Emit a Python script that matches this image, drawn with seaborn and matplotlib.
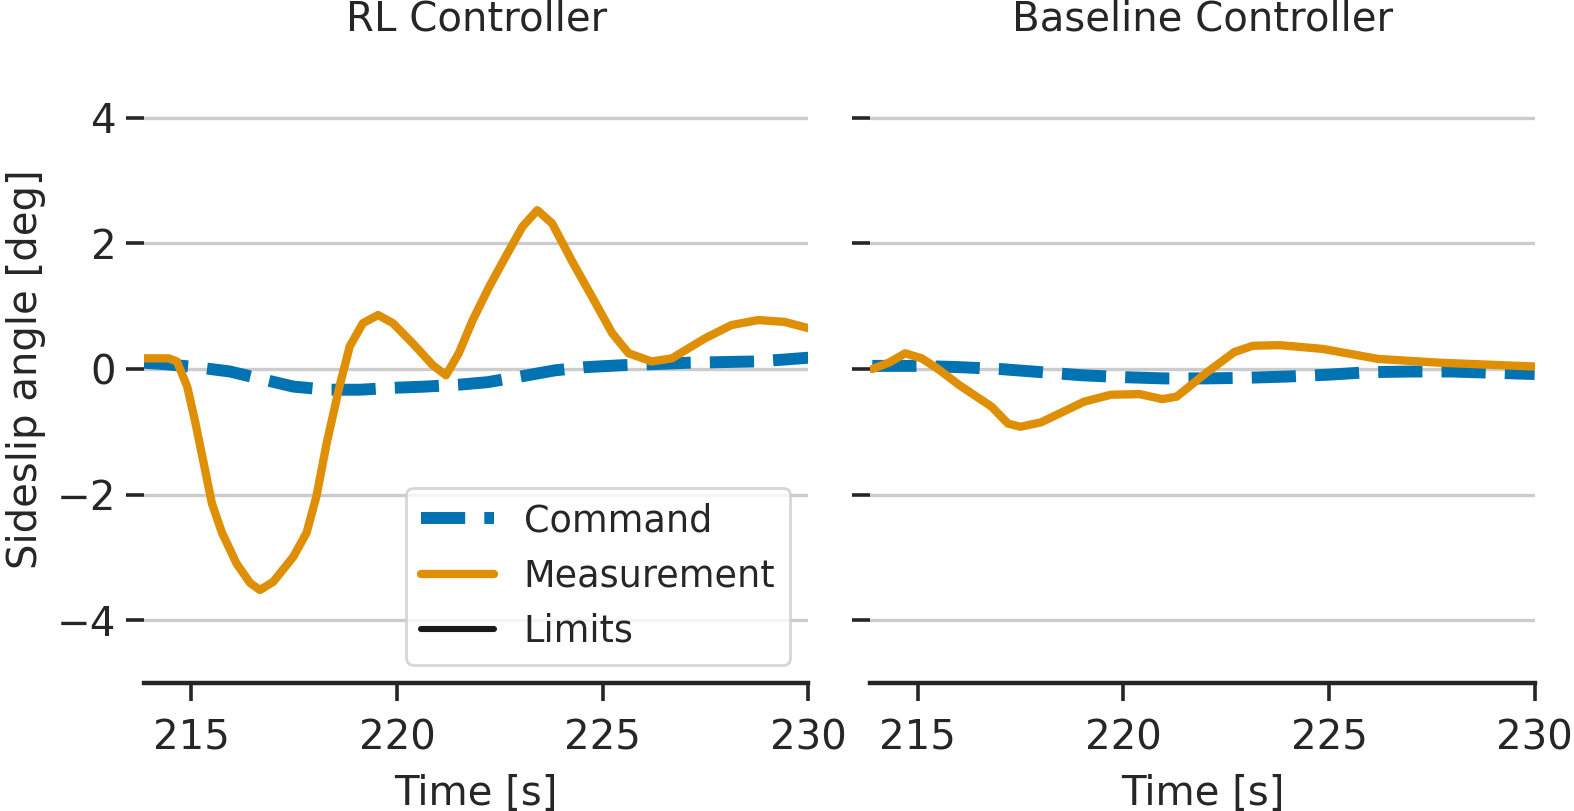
import numpy as np
import pandas as pd
import matplotlib
matplotlib.use("Agg")
import matplotlib.pyplot as plt
import seaborn as sns

# RL controller - sideslip angle readings [deg]
rl_meas_t = [213.85, 214.45, 214.65, 214.9, 215.1, 215.3, 215.5, 215.74, 216.1, 216.43, 216.67,
             216.99, 217.48, 217.8, 218.04, 218.29, 218.6, 218.85, 219.17, 219.54, 219.9,
             220.38, 220.87, 221.19, 221.5, 221.84, 222.24, 222.64, 223.05, 223.41, 223.77,
             224.26, 224.74, 225.23, 225.63, 226.19, 226.68, 227.49, 228.13, 228.78, 229.42,
             230.0]
rl_meas_v = [0.17, 0.17, 0.12, -0.28, -0.86, -1.5, -2.14, -2.6, -3.1, -3.41, -3.52,
             -3.39, -2.99, -2.61, -2.03, -1.18, -0.28, 0.36, 0.73, 0.86, 0.73,
             0.41, 0.06, -0.1, 0.25, 0.78, 1.31, 1.79, 2.27, 2.53, 2.32,
             1.71, 1.15, 0.57, 0.25, 0.12, 0.17, 0.49, 0.70, 0.78, 0.75,
             0.65]

rl_cmd_t = [213.85, 214.33, 215.1, 215.94, 216.7, 217.48, 218.3, 219.1, 219.9, 220.7, 221.5,
            222.2, 223.0, 223.85, 224.6, 225.46, 226.3, 227.1, 227.9, 228.7, 229.4, 230.0]
rl_cmd_v = [0.1, 0.08, 0.03, -0.04, -0.16, -0.28, -0.33, -0.33, -0.3, -0.28, -0.25,
            -0.21, -0.12, -0.02, 0.03, 0.06, 0.08, 0.1, 0.11, 0.12, 0.15, 0.18]

# Baseline controller
base_meas_t = [213.9, 214.3, 214.7, 215.1, 215.5, 216.0, 216.8, 217.2, 217.5, 218.0, 219.05,
               219.7, 220.4, 220.95, 221.3, 222.0, 222.7, 223.15, 223.8, 224.85, 226.2,
               227.7, 230.0]
base_meas_v = [0.0, 0.1, 0.25, 0.17, 0.0, -0.25, -0.6, -0.87, -0.92, -0.85, -0.52,
               -0.41, -0.4, -0.48, -0.44, -0.07, 0.27, 0.37, 0.38, 0.32, 0.16,
               0.1, 0.04]

base_cmd_t = [213.9, 215.0, 216.0, 217.0, 218.0, 219.0, 220.0, 221.0, 222.0, 223.0, 224.0,
              225.0, 226.0, 227.0, 228.0, 229.0, 230.0]
base_cmd_v = [0.05, 0.05, 0.03, 0.0, -0.05, -0.1, -0.13, -0.15, -0.15, -0.14, -0.12,
              -0.09, -0.05, -0.04, -0.04, -0.06, -0.08]

limits = [-10, 10]  # outside the visible range
titles = ["RL Controller", "Baseline Controller"]

sns.set_theme(style="ticks", palette="colorblind", rc={
    "axes.grid": True, "axes.grid.axis": "y", "grid.color": ".8", "grid.linewidth": 1.2,
})
plt.rcParams["font.family"] = ["DejaVu Sans"]
blue, orange = sns.color_palette("colorblind")[0], sns.color_palette("colorblind")[1]

fs = 14.5
fig, axes = plt.subplots(1, 2, figsize=(7.87, 4.055), dpi=200, sharey=True)
fig.subplots_adjust(left=0.0915, right=0.975, bottom=0.158, top=0.932, wspace=0.093)

panels = [(rl_cmd_t, rl_cmd_v, rl_meas_t, rl_meas_v),
          (base_cmd_t, base_cmd_v, base_meas_t, base_meas_v)]

for ax, title, (ct, cv, mt, mv) in zip(axes, titles, panels):
    sns.lineplot(x=ct, y=cv, ax=ax, color=blue, lw=4.3, linestyle="--", label="Command")
    sns.lineplot(x=mt, y=mv, ax=ax, color=orange, lw=3.0, label="Measurement",
                 solid_capstyle="round")
    for lim in limits:
        ax.axhline(lim, color="k", lw=2.2, solid_capstyle="round",
                   label="Limits" if lim == limits[0] else None)
    ax.set_xlim(213.85, 230)
    ax.set_ylim(-5, 5)
    ax.set_xticks([215, 220, 225, 230])
    ax.set_yticks([-4, -2, 0, 2, 4])
    ax.set_title(title, fontsize=fs, pad=9)
    ax.set_xlabel("Time [s]", fontsize=fs, labelpad=5.5)
    ax.tick_params(labelsize=fs, length=6.5, width=1.3)
    ax.tick_params(axis="x", pad=6.4)
    sns.despine(ax=ax, left=True)
    ax.spines["bottom"].set_linewidth(1.6)

axes[0].set_ylabel("Sideslip angle [deg]", fontsize=fs)
axes[0].legend(loc="lower right", fontsize=13.2)
axes[1].get_legend().remove()

fig.savefig("out.png", dpi=200)
